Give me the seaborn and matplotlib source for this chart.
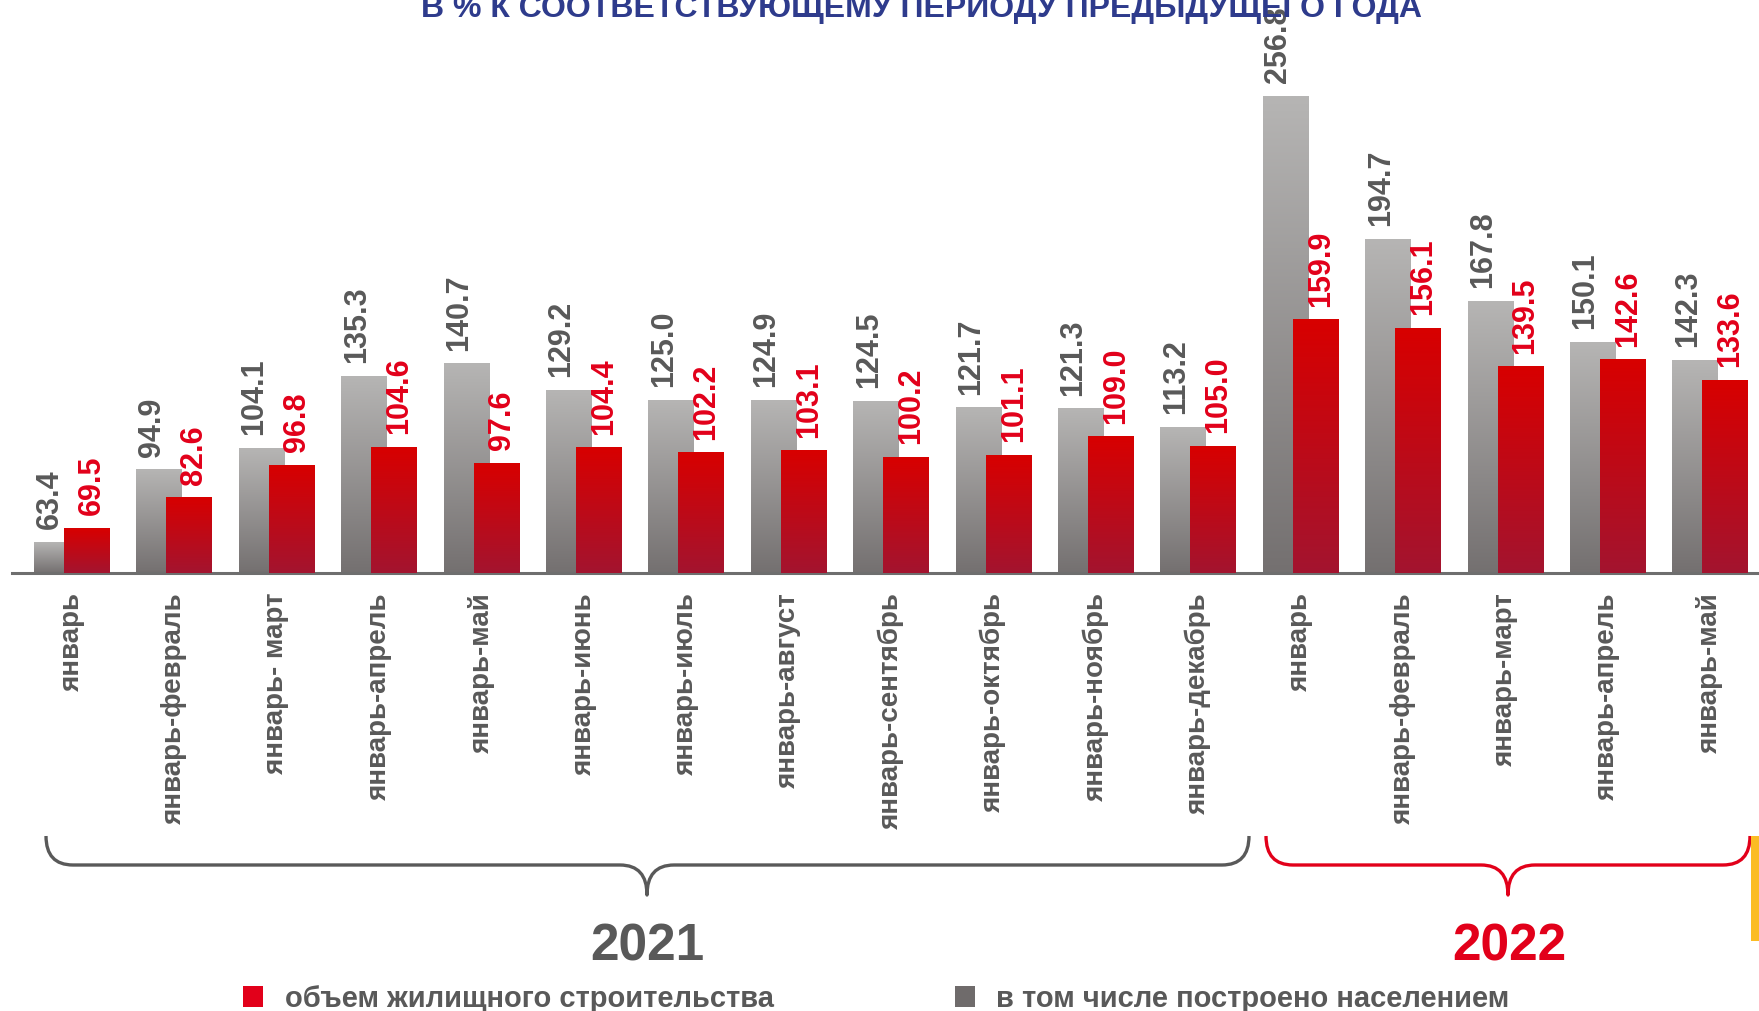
import numpy as np
import pandas as pd
import matplotlib
matplotlib.use('Agg')
import matplotlib.pyplot as plt
import seaborn as sns
from matplotlib.colors import LinearSegmentedColormap
from matplotlib.path import Path
from matplotlib.patches import PathPatch, Rectangle

# ---------------- data ----------------
periods = ['январь', 'январь-февраль', 'январь- март', 'январь-апрель', 'январь-май',
           'январь-июнь', 'январь-июль', 'январь-август', 'январь-сентябрь',
           'январь-октябрь', 'январь-ноябрь', 'январь-декабрь',
           'январь', 'январь-февраль', 'январь-март', 'январь-апрель', 'январь-май']
population = [63.4, 94.9, 104.1, 135.3, 140.7, 129.2, 125.0, 124.9, 124.5, 121.7,
              121.3, 113.2, 256.8, 194.7, 167.8, 150.1, 142.3]   # в том числе построено населением
total = [69.5, 82.6, 96.8, 104.6, 97.6, 104.4, 102.2, 103.1, 100.2, 101.1,
         109.0, 105.0, 159.9, 156.1, 139.5, 142.6, 133.6]        # объем жилищного строительства
years = ['2021', '2022']
title = 'В % К СООТВЕТСТВУЮЩЕМУ ПЕРИОДУ ПРЕДЫДУЩЕГО ГОДА'
legend_labels = ['объем жилищного строительства', 'в том числе построено населением']

# ---------------- style ----------------
sns.set_style('white')
plt.rcParams['font.family'] = ['Liberation Sans', 'DejaVu Sans']

GRAY_TXT = '#595959'
RED_TXT = '#e2001a'

W, H = 1759, 1012
fig = plt.figure(figsize=(W / 100, H / 100), dpi=100)
ax = fig.add_axes([12 / W, 438 / H, 1 - 12 / W, 574 / H])
ax.patch.set_alpha(0)

n = len(periods)
idx = np.arange(n)
off = 0.1465
bw = 0.4395
df_g = pd.DataFrame({'x': idx - off, 'v': population})
df_r = pd.DataFrame({'x': idx + off, 'v': total})
sns.barplot(data=df_g, x='x', y='v', native_scale=True, width=bw, errorbar=None,
            ax=ax, color='#9a9898')
sns.barplot(data=df_r, x='x', y='v', native_scale=True, width=bw, errorbar=None,
            ax=ax, color='#c00000')

y_base = 50
y_top = 50 + 574 / 2.306
cm_g = LinearSegmentedColormap.from_list('g', ['#747070', '#b6b5b4'])
cm_r = LinearSegmentedColormap.from_list('r', ['#a3142f', '#d80000'])
grad = np.linspace(0, 1, 256).reshape(-1, 1)
bars = list(ax.patches)
for k, p in enumerate(bars):
    is_gray = k < n
    x0 = p.get_x()
    w = p.get_width()
    top = p.get_y() + p.get_height()
    ax.imshow(grad, extent=(x0, x0 + w, y_base, top), origin='lower', aspect='auto',
              cmap=cm_g if is_gray else cm_r, zorder=2 if is_gray else 3,
              interpolation='bilinear')
    p.set_visible(False)
    val = top
    if is_gray:
        ax.annotate(f'{val:.1f}', (x0 + w / 2, val), xytext=(-5, 10),
                    textcoords='offset points', rotation=90, ha='center', va='bottom',
                    fontsize=22, fontweight='bold', color=GRAY_TXT, zorder=6,
                    annotation_clip=False)
    else:
        ax.annotate(f'{val:.1f}', (x0 + w / 2, val), xytext=(4, 10),
                    textcoords='offset points', rotation=90, ha='center', va='bottom',
                    fontsize=22, fontweight='bold', color=RED_TXT, zorder=7,
                    annotation_clip=False)

ax.set_xlim(-0.581, 16.48)
ax.set_ylim(y_base, y_top)
ax.set_xticks(idx)
ax.set_xticklabels(periods, rotation=90, fontsize=20, fontweight='bold', color=GRAY_TXT)
ax.tick_params(axis='x', length=0, pad=13)
ax.set_yticks([])
ax.set_xlabel('')
ax.set_ylabel('')
for s in ['top', 'right', 'left']:
    ax.spines[s].set_visible(False)
ax.spines['bottom'].set_color('#6e6e6e')
ax.spines['bottom'].set_linewidth(2.2)

# ---------------- overlay (pixels) ----------------
ov = fig.add_axes([0, 0, 1, 1])
ov.patch.set_alpha(0)
ov.set_xlim(0, W)
ov.set_ylim(H, 0)
ov.axis('off')

ov.text(922, 17, title, ha='center', va='baseline', fontsize=23, fontweight='bold',
        color='#2e3b8c')


def brace(x0, x1, xc, ytop, yline, ytip, r, color):
    verts = [(x0, ytop), (x0, yline), (x0 + r, yline), (xc - r, yline), (xc, yline),
             (xc, ytip), (xc, yline), (xc + r, yline), (x1 - r, yline), (x1, yline),
             (x1, ytop)]
    codes = [Path.MOVETO, Path.CURVE3, Path.CURVE3, Path.LINETO, Path.CURVE3, Path.CURVE3,
             Path.CURVE3, Path.CURVE3, Path.LINETO, Path.CURVE3, Path.CURVE3]
    ov.add_patch(PathPatch(Path(verts, codes), fill=False, edgecolor=color, lw=2.4,
                           joinstyle='round', capstyle='butt'))


brace(46, 1249, 647, 837, 866, 896, 27, GRAY_TXT)
brace(1266, 1750, 1508, 837, 866, 896, 27, RED_TXT)

ov.text(647, 961, years[0], ha='center', va='baseline', fontsize=37, fontweight='bold',
        color=GRAY_TXT)
ov.text(1509, 961, years[1], ha='center', va='baseline', fontsize=37, fontweight='bold',
        color=RED_TXT)

ov.add_patch(Rectangle((1751, 837), 8, 105, color='#fbbc24', lw=0))

ov.add_patch(Rectangle((243, 987), 20, 21, color='#e2001a', lw=0))
ov.text(285, 1007, legend_labels[0], ha='left', va='baseline', fontsize=21,
        fontweight='bold', color=GRAY_TXT)
ov.add_patch(Rectangle((955, 987), 20, 21, color='#6f6b6b', lw=0))
ov.text(996, 1007, legend_labels[1], ha='left', va='baseline', fontsize=21,
        fontweight='bold', color=GRAY_TXT)

fig.savefig('out.png', dpi=100)
